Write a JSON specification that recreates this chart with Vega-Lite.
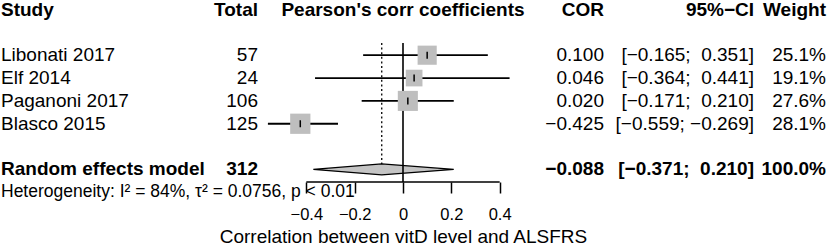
{
  "$schema": "https://vega.github.io/schema/vega-lite/v6.json",
  "padding": {"left": 1, "right": 3, "top": 0, "bottom": 0},
  "spacing": 0,
  "bounds": "flush",
  "config": {
    "font": "Liberation Sans",
    "view": {"stroke": null},
    "text": {"fontSize": 19, "color": "#000000"}
  },
  "datasets": {
    "header": [
      {"row": 0, "study": "Study", "total": "Total", "plot": "Pearson's corr coefficients", "cor": "COR", "ci": "95%\u2212CI", "w": "Weight"}
    ],
    "studies": [
      {"row": 2, "study": "Libonati 2017", "total": 57, "cor": 0.100, "lo": -0.165, "hi": 0.351, "w": 0.251, "ci": "[\u22120.165;\u00a0\u00a00.351]"},
      {"row": 3, "study": "Elf 2014", "total": 24, "cor": 0.046, "lo": -0.364, "hi": 0.441, "w": 0.191, "ci": "[\u22120.364;\u00a0\u00a00.441]"},
      {"row": 4, "study": "Paganoni 2017", "total": 106, "cor": 0.020, "lo": -0.171, "hi": 0.210, "w": 0.276, "ci": "[\u22120.171;\u00a0\u00a00.210]"},
      {"row": 5, "study": "Blasco 2015", "total": 125, "cor": -0.425, "lo": -0.559, "hi": -0.269, "w": 0.281, "ci": "[\u22120.559;\u00a0\u22120.269]"}
    ],
    "pooled": [
      {"row": 7, "study": "Random effects model", "total": 312, "cor": -0.088, "lo": -0.371, "hi": 0.210, "w": 1.0, "ci": "[\u22120.371;\u00a0\u00a00.210]"}
    ],
    "het": [
      {"row": 8, "text": "Heterogeneity: I\u00b2 = 84%, \u03c4\u00b2 = 0.0756, p < 0.01"}
    ],
    "diamond": [
      {"x": -0.371, "y": 7, "y2": 7},
      {"x": -0.088, "y": 6.76, "y2": 7.24},
      {"x": 0.210, "y": 7, "y2": 7}
    ]
  },
  "hconcat": [
    {
      "width": 150, "height": 246,
      "encoding": {"y": {"field": "row", "type": "quantitative", "scale": {"domain": [-0.372, 10.394], "reverse": true, "nice": false, "zero": false}, "axis": null}},
      "layer": [
        {"data": {"name": "header"}, "mark": {"type": "text", "align": "left", "fontWeight": "bold"}, "encoding": {"x": {"value": 0}, "text": {"field": "study"}}},
        {"data": {"name": "studies"}, "mark": {"type": "text", "align": "left"}, "encoding": {"x": {"value": 0}, "text": {"field": "study"}}},
        {"data": {"name": "pooled"}, "mark": {"type": "text", "align": "left", "fontWeight": "bold"}, "encoding": {"x": {"value": 0}, "text": {"field": "study"}}},
        {"data": {"name": "het"}, "mark": {"type": "text", "align": "left", "fontSize": 17.5}, "encoding": {"x": {"value": 0}, "text": {"field": "text"}}}
      ]
    },
    {
      "width": 107, "height": 246,
      "encoding": {"y": {"field": "row", "type": "quantitative", "scale": {"domain": [-0.372, 10.394], "reverse": true, "nice": false, "zero": false}, "axis": null}},
      "layer": [
        {"data": {"name": "header"}, "mark": {"type": "text", "align": "right", "fontWeight": "bold"}, "encoding": {"x": {"value": "width"}, "text": {"field": "total"}}},
        {"data": {"name": "studies"}, "mark": {"type": "text", "align": "right"}, "encoding": {"x": {"value": "width"}, "text": {"field": "total", "type": "quantitative", "format": "d"}}},
        {"data": {"name": "pooled"}, "mark": {"type": "text", "align": "right", "fontWeight": "bold"}, "encoding": {"x": {"value": "width"}, "text": {"field": "total", "type": "quantitative", "format": "d"}}}
      ]
    },
    {
      "width": 290, "height": 246,
      "layer": [
        {
          "data": {"name": "pooled"},
          "mark": {"type": "rule", "color": "#000000", "strokeWidth": 1.3, "strokeDash": [2, 2.6]},
          "encoding": {
            "x": {"field": "cor", "type": "quantitative", "scale": {"domain": [-0.6, 0.6], "nice": false, "zero": false},
              "axis": {"values": [-0.4, -0.2, 0, 0.2, 0.4], "format": "~g", "domain": false, "grid": false, "offset": -65,
                "tickSize": 11, "tickWidth": 1.5, "tickColor": "#000000", "labelFont": "Liberation Sans", "labelFontSize": 16.5,
                "labelColor": "#000000", "labelPadding": 13, "labelFlush": false, "labelOverlap": false,
                "title": "Correlation between vitD level and ALSFRS", "titleFont": "Liberation Sans", "titleFontSize": 19,
                "titleFontWeight": "normal", "titleColor": "#000000", "titleBaseline": "alphabetic", "titleY": 60.7}},
            "y": {"datum": 1.466, "type": "quantitative", "scale": {"domain": [-0.372, 10.394], "reverse": true, "nice": false, "zero": false}, "axis": null},
            "y2": {"datum": 6.76}
          }
        },
        {
          "data": {"name": "diamond"},
          "mark": {"type": "area", "orient": "vertical", "fill": "#C4C4C4", "stroke": "#000000", "strokeWidth": 1.2, "opacity": 1},
          "encoding": {
            "x": {"field": "x", "type": "quantitative", "scale": {"domain": [-0.6, 0.6], "nice": false, "zero": false}},
            "y": {"field": "y", "type": "quantitative", "scale": {"domain": [-0.372, 10.394], "reverse": true, "nice": false, "zero": false}, "axis": null},
            "y2": {"field": "y2"}
          }
        },
        {
          "data": {"name": "pooled"},
          "mark": {"type": "rule", "color": "#000000", "strokeWidth": 1.6},
          "encoding": {
            "x": {"datum": 0, "type": "quantitative", "scale": {"domain": [-0.6, 0.6], "nice": false, "zero": false}},
            "y": {"datum": 1.466, "type": "quantitative", "scale": {"domain": [-0.372, 10.394], "reverse": true, "nice": false, "zero": false}, "axis": null},
            "y2": {"datum": 7.549}
          }
        },
        {
          "data": {"name": "pooled"},
          "mark": {"type": "rule", "color": "#000000", "strokeWidth": 1.5},
          "encoding": {
            "x": {"datum": -0.4, "type": "quantitative", "scale": {"domain": [-0.6, 0.6], "nice": false, "zero": false}},
            "x2": {"datum": 0.4},
            "y": {"datum": 7.549, "type": "quantitative", "scale": {"domain": [-0.372, 10.394], "reverse": true, "nice": false, "zero": false}, "axis": null}
          }
        },
        {
          "data": {"name": "studies"},
          "mark": {"type": "rule", "color": "#000000", "strokeWidth": 1.8},
          "encoding": {
            "x": {"field": "lo", "type": "quantitative", "scale": {"domain": [-0.6, 0.6], "nice": false, "zero": false}},
            "x2": {"field": "hi"},
            "y": {"field": "row", "type": "quantitative", "scale": {"domain": [-0.372, 10.394], "reverse": true, "nice": false, "zero": false}, "axis": null}
          }
        },
        {
          "data": {"name": "studies"},
          "mark": {"type": "square", "filled": true, "color": "#BEBEBE", "opacity": 1},
          "encoding": {
            "x": {"field": "cor", "type": "quantitative", "scale": {"domain": [-0.6, 0.6], "nice": false, "zero": false}},
            "y": {"field": "row", "type": "quantitative", "scale": {"domain": [-0.372, 10.394], "reverse": true, "nice": false, "zero": false}, "axis": null},
            "size": {"field": "w", "type": "quantitative", "scale": {"type": "linear", "domain": [0, 0.281], "range": [0, 410]}, "legend": null}
          }
        },
        {
          "data": {"name": "studies"},
          "mark": {"type": "tick", "orient": "vertical", "size": 7, "thickness": 1.5, "color": "#000000", "opacity": 1},
          "encoding": {
            "x": {"field": "cor", "type": "quantitative", "scale": {"domain": [-0.6, 0.6], "nice": false, "zero": false}},
            "y": {"field": "row", "type": "quantitative", "scale": {"domain": [-0.372, 10.394], "reverse": true, "nice": false, "zero": false}, "axis": null}
          }
        },
        {
          "data": {"name": "header"},
          "mark": {"type": "text", "align": "center", "fontWeight": "bold"},
          "encoding": {
            "x": {"datum": 0, "type": "quantitative", "scale": {"domain": [-0.6, 0.6], "nice": false, "zero": false}},
            "y": {"field": "row", "type": "quantitative", "scale": {"domain": [-0.372, 10.394], "reverse": true, "nice": false, "zero": false}, "axis": null},
            "text": {"field": "plot"}
          }
        }
      ]
    },
    {
      "width": 56, "height": 246,
      "encoding": {"y": {"field": "row", "type": "quantitative", "scale": {"domain": [-0.372, 10.394], "reverse": true, "nice": false, "zero": false}, "axis": null}},
      "layer": [
        {"data": {"name": "header"}, "mark": {"type": "text", "align": "right", "fontWeight": "bold"}, "encoding": {"x": {"value": "width"}, "text": {"field": "cor"}}},
        {"data": {"name": "studies"}, "mark": {"type": "text", "align": "right"}, "encoding": {"x": {"value": "width"}, "text": {"field": "cor", "type": "quantitative", "format": ".3f"}}},
        {"data": {"name": "pooled"}, "mark": {"type": "text", "align": "right", "fontWeight": "bold"}, "encoding": {"x": {"value": "width"}, "text": {"field": "cor", "type": "quantitative", "format": ".3f"}}}
      ]
    },
    {
      "width": 150, "height": 246,
      "encoding": {"y": {"field": "row", "type": "quantitative", "scale": {"domain": [-0.372, 10.394], "reverse": true, "nice": false, "zero": false}, "axis": null}},
      "layer": [
        {"data": {"name": "header"}, "mark": {"type": "text", "align": "right", "fontWeight": "bold"}, "encoding": {"x": {"value": "width"}, "text": {"field": "ci"}}},
        {"data": {"name": "studies"}, "mark": {"type": "text", "align": "right"}, "encoding": {"x": {"value": "width"}, "text": {"field": "ci"}}},
        {"data": {"name": "pooled"}, "mark": {"type": "text", "align": "right", "fontWeight": "bold"}, "encoding": {"x": {"value": "width"}, "text": {"field": "ci"}}}
      ]
    },
    {
      "width": 72, "height": 246,
      "encoding": {"y": {"field": "row", "type": "quantitative", "scale": {"domain": [-0.372, 10.394], "reverse": true, "nice": false, "zero": false}, "axis": null}},
      "layer": [
        {"data": {"name": "header"}, "mark": {"type": "text", "align": "right", "fontWeight": "bold"}, "encoding": {"x": {"value": "width"}, "text": {"field": "w"}}},
        {"data": {"name": "studies"}, "mark": {"type": "text", "align": "right"}, "encoding": {"x": {"value": "width"}, "text": {"field": "w", "type": "quantitative", "format": ".1%"}}},
        {"data": {"name": "pooled"}, "mark": {"type": "text", "align": "right", "fontWeight": "bold"}, "encoding": {"x": {"value": "width"}, "text": {"field": "w", "type": "quantitative", "format": ".1%"}}}
      ]
    }
  ]
}
